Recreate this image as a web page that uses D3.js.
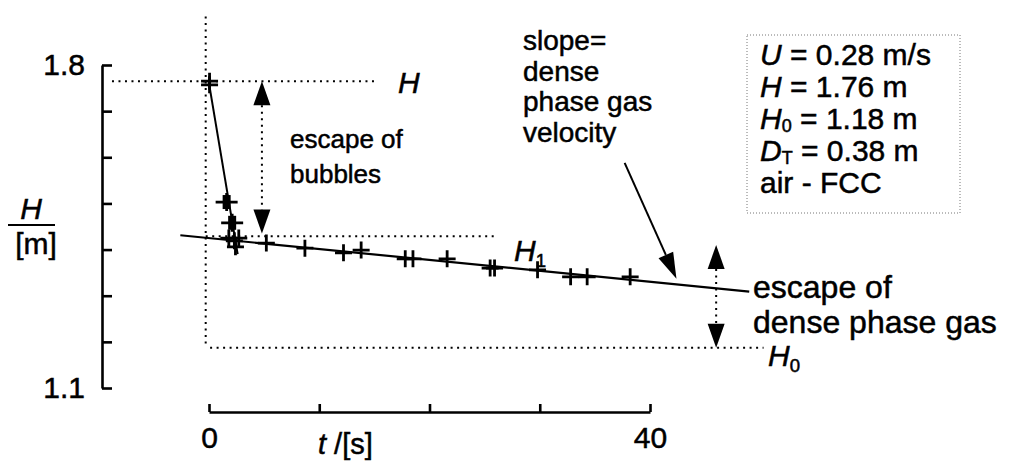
<!DOCTYPE html>
<html>
<head>
<meta charset="utf-8">
<script src="https://cdn.jsdelivr.net/npm/d3@7"></script>
<style>
  body { margin: 0; background: #fff; }
  svg text { font-family: "Liberation Sans", Arial, Helvetica, sans-serif; fill: #000; stroke: #000; stroke-width: 0.5px; }
</style>
</head>
<body>
<svg id="chart" width="1023" height="462"></svg>
<script>
// bed collapse test: measured bed height H [m] against time t [s]
var times   = [0.05, 0.05, 1.6, 2.1, 1.8, 2.3, 2.7, 2.4, 5.2, 8.7, 12.2, 13.8, 17.8, 18.5, 21.6, 25.5, 25.9, 29.8, 32.8, 34.3, 38.2]
var heights = [1.765, 1.757, 1.503, 1.458, 1.425, 1.419, 1.425, 1.406, 1.414, 1.403, 1.393, 1.399, 1.380, 1.380, 1.380, 1.360, 1.360, 1.356, 1.341, 1.341, 1.341]

// bubble escape stage and dense phase straight line
var bubbleLine = [[0, 1.76], [2.6, 1.39]]
var denseLine  = [[-2.6, 1.431], [49, 1.309]]

// reference levels
var levelH  = 1.765
var levelH1 = 1.429
var levelH0 = 1.187

var xTicks = [0, 10, 20, 30, 40]
var xTickLabels = ['0', '', '', '', '40']
var yTicks = [1.1, 1.2, 1.3, 1.4, 1.5, 1.6, 1.7, 1.8]
var yTickLabels = ['1.1', '', '', '', '', '', '', '1.8']

var infoLines = [
  [['U', 'i'], [' = 0.28 m/s', '']],
  [['H', 'i'], [' = 1.76 m', '']],
  [['H', 'i'], ['0', 'sub'], [' = 1.18 m', '']],
  [['D', 'i'], ['T', 'sub'], [' = 0.38 m', '']],
  [['air - FCC', '']]
]
var slopeLines = ['slope=', 'dense', 'phase gas', 'velocity']
var bubbleText = ['escape of', 'bubbles']
var denseText = ['escape of', 'dense phase gas']

var svg = d3.select('#chart')
var FS = 30

var x = d3.scaleLinear().domain([0, 40]).range([209, 650])
var y = d3.scaleLinear().domain([1.1, 1.8]).range([388, 65])

// axes
var yAxis = d3.axisLeft(y)
  .tickValues(yTicks)
  .tickFormat(function (d, i) { return yTickLabels[i] })
  .tickSize(-10).tickSizeOuter(0).tickPadding(17)

var gy = svg.append('g').attr('transform', 'translate(102,0)').call(yAxis)

var xAxis = d3.axisBottom(x)
  .tickValues(xTicks)
  .tickFormat(function (d, i) { return xTickLabels[i] })
  .tickSize(-8).tickSizeOuter(0).tickPadding(15)

var gx = svg.append('g').attr('transform', 'translate(0,412)').call(xAxis)

;[gx, gy].forEach(function (g) {
  g.selectAll('path, line').attr('stroke', '#000').attr('stroke-width', 2.6)
  g.selectAll('text').attr('font-size', FS).attr('font-family', '"Liberation Sans", Arial, sans-serif')
    .attr('fill', '#000').attr('stroke', '#000').attr('stroke-width', 0.5)
})

// axis titles
var yl = svg.append('g')
yl.append('text').attr('x', 31).attr('y', 219).attr('text-anchor', 'middle')
  .attr('font-size', FS).attr('font-style', 'italic').text('H')
yl.append('line').attr('x1', 8).attr('x2', 55).attr('y1', 225).attr('y2', 225)
  .attr('stroke', '#000').attr('stroke-width', 2)
yl.append('text').attr('x', 36).attr('y', 254).attr('text-anchor', 'middle')
  .attr('font-size', FS).text('[m]')

var xl = svg.append('text').attr('x', 318).attr('y', 454).attr('font-size', 29)
xl.append('tspan').attr('font-style', 'italic').text('t')
xl.append('tspan').text(' /[s]')

// dotted guide lines
function dotted (x1, y1, x2, y2) {
  svg.append('line')
    .attr('x1', x1).attr('y1', y1).attr('x2', x2).attr('y2', y2)
    .attr('stroke', '#000').attr('stroke-width', 2)
    .attr('stroke-dasharray', '2,4.5')
}

dotted(x(-0.3), y(1.905), x(-0.3), y(1.195))
dotted(x(-8.8), y(levelH), x(15), y(levelH))
dotted(x(-0.3), y(levelH1), x(26), y(levelH1))
dotted(x(0.1), y(levelH0), x(50.3), y(levelH0))

// fitted lines
var line = d3.line().x(function (d) { return x(d[0]) }).y(function (d) { return y(d[1]) })
svg.append('path').attr('d', line(bubbleLine)).attr('fill', 'none').attr('stroke', '#000').attr('stroke-width', 2)
svg.append('path').attr('d', line(denseLine)).attr('fill', 'none').attr('stroke', '#000').attr('stroke-width', 2.2)

// data crosses
var pts = times.map(function (t, i) { return [t, heights[i]] })
var mk = svg.append('g')
pts.forEach(function (p, i) {
  var cx = x(p[0]), cy = y(p[1])
  var bold = (i === 2 || i === 3)
  var hw = bold ? 11 : 8.5, hh = bold ? 9 : 8.5
  if (bold) {
    mk.append('rect').attr('x', cx - 4).attr('y', cy - 7).attr('width', 8).attr('height', 14).attr('fill', '#000')
  }
  mk.append('path')
    .attr('d', 'M' + (cx - hw) + ',' + cy + 'H' + (cx + hw) + 'M' + cx + ',' + (cy - hh) + 'V' + (cy + hh))
    .attr('stroke', '#000').attr('stroke-width', 2.8).attr('fill', 'none')
})

// arrows
function head (tx, ty, fx, fy, len, half) {
  var a = Math.atan2(ty - fy, tx - fx)
  var bx = tx - len * Math.cos(a), by = ty - len * Math.sin(a)
  var px = -Math.sin(a) * half, py = Math.cos(a) * half
  svg.append('path')
    .attr('d', 'M' + tx + ',' + ty + 'L' + (bx + px) + ',' + (by + py) + 'L' + (bx - px) + ',' + (by - py) + 'Z')
    .attr('fill', '#000')
  return [bx, by]
}

function doubleArrow (t, h1, h2) {
  var xx = x(t), ya = y(h1), yb = y(h2)
  var b1 = head(xx, ya, xx, yb, 24, 8.5)
  var b2 = head(xx, yb, xx, ya, 24, 8.5)
  dotted(xx, b1[1], xx, b2[1])
}

doubleArrow(4.8, levelH, levelH1 + 0.006)
doubleArrow(46, 1.41, levelH0)

// slope pointer
var sx1 = x(37.7), sy1 = y(1.588), sx2 = x(42.4), sy2 = y(1.337)
var sb = head(sx2, sy2, sx1, sy1, 26, 8)
svg.append('line').attr('x1', sx1).attr('y1', sy1).attr('x2', sb[0]).attr('y2', sb[1])
  .attr('stroke', '#000').attr('stroke-width', 2)

// annotation texts
function lines (arr, x0, y0, step, fs) {
  arr.forEach(function (s, i) {
    svg.append('text').attr('x', x0).attr('y', y0 + i * step).attr('font-size', fs).text(s)
  })
}
lines(slopeLines, 523, 50, 30.5, 28)
lines(bubbleText, 290, 148, 35, 26)
lines(denseText, 753, 298, 35, 32)

function sym (x0, y0, main, sub) {
  var t = svg.append('text').attr('x', x0).attr('y', y0).attr('font-size', FS)
  t.append('tspan').attr('font-style', 'italic').text(main)
  if (sub) t.append('tspan').attr('font-size', FS * 0.62).attr('dy', 6).text(sub)
}
sym(398, 93, 'H')
sym(514, 261, 'H', '1')
sym(768, 366, 'H', '0')

// parameter box
svg.append('rect').attr('x', 747).attr('y', 35).attr('width', 213).attr('height', 178)
  .attr('fill', 'none').attr('stroke', '#777').attr('stroke-width', 1).attr('stroke-dasharray', '1,2')

infoLines.forEach(function (segs, i) {
  var t = svg.append('text').attr('x', 760).attr('y', 65 + i * 32).attr('font-size', FS)
  var shifted = false
  segs.forEach(function (s) {
    var sp = t.append('tspan').text(s[0])
    if (s[1] === 'i') sp.attr('font-style', 'italic')
    if (s[1] === 'sub') { sp.attr('font-size', FS * 0.6).attr('dy', 3); shifted = true }
    else if (shifted) { sp.attr('dy', -3); shifted = false }
  })
})
</script>
</body>
</html>
